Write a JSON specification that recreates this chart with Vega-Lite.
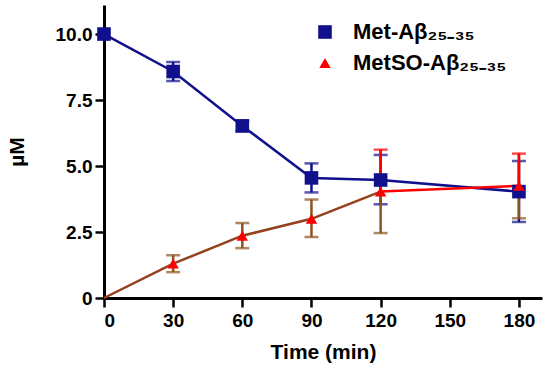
{
  "$schema": "https://vega.github.io/schema/vega-lite/v6.json",
  "width": 438,
  "height": 293,
  "autosize": "none",
  "padding": {"left": 104, "top": 5, "right": 8, "bottom": 75},
  "background": "white",
  "config": {
    "view": {"stroke": null},
    "font": "Liberation Sans",
    "axis": {
      "domainColor": "black", "domainWidth": 3, "tickColor": "black", "tickWidth": 2.5, "tickSize": 9,
      "labelFont": "Liberation Sans", "labelFontSize": 19, "labelFontWeight": "bold", "labelColor": "black",
      "titleFont": "Liberation Sans", "titleFontSize": 21, "titleFontWeight": "bold", "titleColor": "black",
      "grid": false
    }
  },
  "data": {
    "values": [
      {"series": "Met", "time": 0, "mean": 10.0, "lo": 10.0, "hi": 10.0},
      {"series": "Met", "time": 30, "mean": 8.58, "lo": 8.22, "hi": 8.94},
      {"series": "Met", "time": 60, "mean": 6.52, "lo": 6.32, "hi": 6.72},
      {"series": "Met", "time": 90, "mean": 4.55, "lo": 4.0, "hi": 5.1},
      {"series": "Met", "time": 120, "mean": 4.47, "lo": 3.55, "hi": 5.42},
      {"series": "Met", "time": 180, "mean": 4.03, "lo": 2.88, "hi": 5.19},
      {"series": "MetSO", "time": 0, "mean": 0.0, "lo": 0.0, "hi": 0.0},
      {"series": "MetSO", "time": 30, "mean": 1.3, "lo": 0.98, "hi": 1.62},
      {"series": "MetSO", "time": 60, "mean": 2.36, "lo": 1.89, "hi": 2.84},
      {"series": "MetSO", "time": 90, "mean": 3.0, "lo": 2.31, "hi": 3.73},
      {"series": "MetSO", "time": 120, "mean": 4.03, "lo": 2.46, "hi": 5.62},
      {"series": "MetSO", "time": 180, "mean": 4.25, "lo": 3.02, "hi": 5.47}
    ]
  },
  "encoding": {
    "x": {
      "field": "time", "type": "quantitative",
      "scale": {"domain": [0, 190], "nice": false},
      "axis": {"values": [0, 30, 60, 90, 120, 150, 180], "labelPadding": 4, "titlePadding": 11},
      "title": "Time (min)"
    }
  },
  "layer": [
    {
      "transform": [{"filter": "datum.series == 'Met' && datum.time > 0"}],
      "mark": {"type": "rule", "color": "#10108c", "strokeWidth": 2.5},
      "encoding": {
        "y": {"field": "lo", "type": "quantitative", "title": "µM", "scale": {"domain": [0, 11.1], "nice": false},
          "axis": {"values": [0, 2.5, 5, 7.5, 10], "labelExpr": "datum.value == 0 ? '0' : format(datum.value, '.1f')", "labelPadding": 3, "titlePadding": 28}},
        "y2": {"field": "hi"}
      }
    },
    {
      "transform": [{"filter": "datum.series == 'Met' && datum.time > 0"}],
      "mark": {"type": "tick", "orient": "horizontal", "color": "#10108c", "size": 14, "thickness": 2.5},
      "encoding": {"y": {"field": "lo", "type": "quantitative", "title": "µM"}}
    },
    {
      "transform": [{"filter": "datum.series == 'Met' && datum.time > 0"}],
      "mark": {"type": "tick", "orient": "horizontal", "color": "#10108c", "size": 14, "thickness": 2.5},
      "encoding": {"y": {"field": "hi", "type": "quantitative", "title": "µM"}}
    },
    {
      "transform": [{"filter": "datum.series == 'Met'"}],
      "mark": {"type": "line", "strokeWidth": 2.5},
      "encoding": {
        "y": {"field": "mean", "type": "quantitative", "title": "µM"},
        "color": {
          "field": "series", "type": "nominal",
          "scale": {"domain": ["Met", "MetSO"], "range": ["#10108c", "#ff0000"]},
          "legend": {
            "orient": "none", "legendX": 210, "legendY": 16, "title": null, "padding": 0,
            "labelExpr": "datum.value == 'Met' ? 'Met-Aβ₂₅₋₃₅' : 'MetSO-Aβ₂₅₋₃₅'",
            "labelFont": "Liberation Sans", "labelFontSize": 22, "labelFontWeight": "bold", "labelColor": "black",
            "symbolSize": 462, "labelOffset": 17, "rowPadding": 9,
            "symbolStrokeWidth": 0, "symbolOpacity": 1,
            "encode": {
              "symbols": {
                "update": {
                  "shape": {"signal": "datum.value == 'Met' ? 'M-2,-0.12L2,-0.12L2,0.12L-2,0.12ZM-0.66,-0.66L0.66,-0.66L0.66,0.66L-0.66,0.66Z' : 'M-2,-0.12L2,-0.12L2,0.12L-2,0.12ZM0,-0.62L0.62,0.5L-0.62,0.5Z'"},
                  "fill": {"signal": "datum.value == 'Met' ? '#10108c' : '#ff0000'"},
                  "fillOpacity": {"value": 1},
                  "strokeWidth": {"value": 0}
                }
              }
            }
          }
        }
      }
    },
    {
      "transform": [{"filter": "datum.series == 'MetSO' && datum.time > 0"}],
      "mark": {"type": "rule", "color": "#8b5220", "strokeWidth": 2.5},
      "encoding": {"y": {"field": "lo", "type": "quantitative", "title": "µM"}, "y2": {"field": "hi"}}
    },
    {
      "transform": [{"filter": "datum.series == 'MetSO' && datum.time > 0"}],
      "mark": {"type": "tick", "orient": "horizontal", "color": "#8b5220", "size": 14, "thickness": 2.5},
      "encoding": {"y": {"field": "lo", "type": "quantitative", "title": "µM"}}
    },
    {
      "transform": [{"filter": "datum.series == 'MetSO' && datum.time > 0 && datum.time < 120"}],
      "mark": {"type": "tick", "orient": "horizontal", "color": "#8b5220", "size": 14, "thickness": 2.5},
      "encoding": {"y": {"field": "hi", "type": "quantitative", "title": "µM"}}
    },
    {
      "transform": [{"filter": "datum.series == 'MetSO' && datum.time >= 120"}],
      "mark": {"type": "rule", "color": "#ff0000", "strokeWidth": 2.5},
      "encoding": {"y": {"field": "mean", "type": "quantitative", "title": "µM"}, "y2": {"field": "hi"}}
    },
    {
      "transform": [{"filter": "datum.series == 'MetSO' && datum.time >= 120"}],
      "mark": {"type": "tick", "orient": "horizontal", "color": "#ff0000", "size": 14, "thickness": 2.5},
      "encoding": {"y": {"field": "hi", "type": "quantitative", "title": "µM"}}
    },
    {
      "transform": [{"filter": "datum.series == 'MetSO' && datum.time <= 120"}],
      "mark": {"type": "line", "color": "#94401c", "strokeWidth": 2.5},
      "encoding": {"y": {"field": "mean", "type": "quantitative", "title": "µM"}}
    },
    {
      "transform": [{"filter": "datum.series == 'MetSO' && datum.time >= 120"}],
      "mark": {"type": "line", "strokeWidth": 2.5},
      "encoding": {
        "y": {"field": "mean", "type": "quantitative", "title": "µM"},
        "color": {"field": "series", "type": "nominal"}
      }
    },
    {
      "transform": [{"filter": "!(datum.series == 'MetSO' && datum.time == 0)"}],
      "mark": {"type": "point", "filled": true, "opacity": 1},
      "encoding": {
        "y": {"field": "mean", "type": "quantitative", "title": "µM"},
        "shape": {"field": "series", "type": "nominal", "scale": {"domain": ["Met", "MetSO"], "range": ["square", "triangle-up"]}, "legend": null},
        "size": {"field": "series", "type": "nominal", "scale": {"domain": ["Met", "MetSO"], "range": [185, 130]}, "legend": null},
        "fill": {
          "field": "series", "type": "nominal",
          "scale": {"domain": ["Met", "MetSO"], "range": ["#10108c", "#ff0000"]},
          "legend": null
        }
      }
    }
  ]
}
